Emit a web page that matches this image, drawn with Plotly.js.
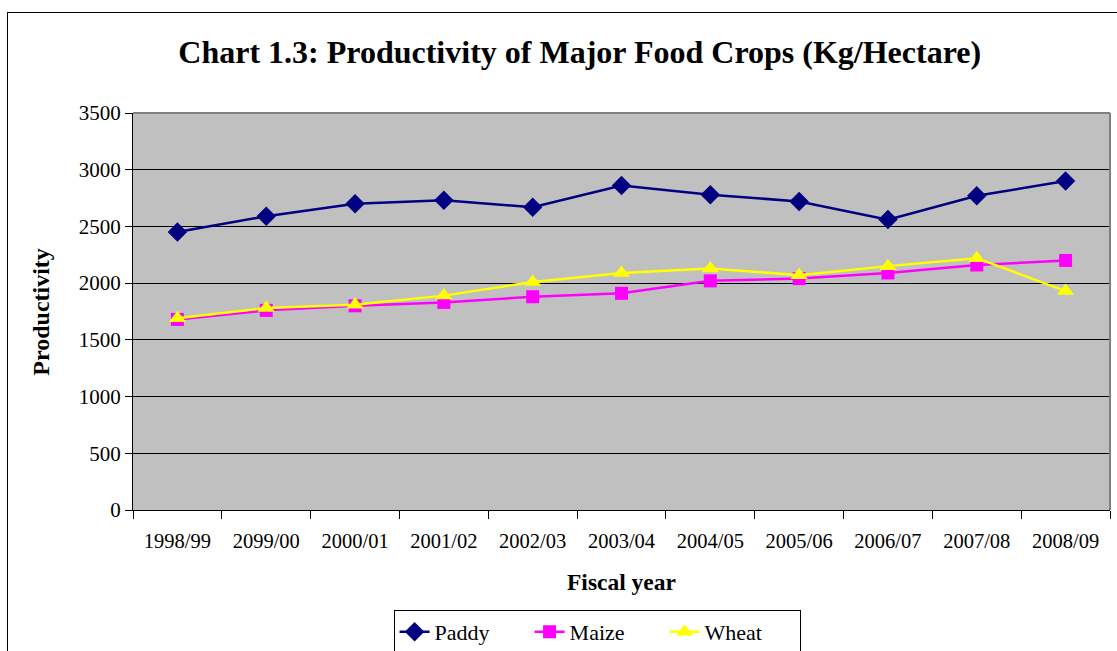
<!DOCTYPE html>
<html>
<head>
<meta charset="utf-8">
<script src="https://cdn.plot.ly/plotly-3.0.1.min.js"></script>
<style>
html,body{margin:0;padding:0;background:#fff;}
#wrap{position:relative;width:1117px;height:651px;overflow:hidden;}
#chart{width:1117px;height:651px;}
#frame{position:absolute;left:7px;top:12px;width:1200px;height:700px;border-left:1px solid #000;border-top:1px solid #000;pointer-events:none;}
</style>
</head>
<body>
<div id="wrap"><div id="chart"></div><div id="frame"></div></div>
<script>
const years = ["1998/99","2099/00","2000/01","2001/02","2002/03","2003/04","2004/05","2005/06","2006/07","2007/08","2008/09"];
const paddy = [2450,2590,2700,2730,2670,2860,2780,2720,2560,2770,2900];
const maize = [1680,1760,1800,1830,1880,1910,2020,2040,2090,2160,2200];
const wheat = [1690,1780,1810,1890,2010,2090,2130,2070,2150,2220,1930];

const font = "Liberation Serif, Times New Roman, serif";
const traces = [
  {x: years, y: paddy, name: "Paddy", type: "scatter", mode: "lines+markers",
   line: {color: "#000080", width: 2.5}, marker: {symbol: "diamond", size: 15, color: "#000080"}},
  {x: years, y: maize, name: "Maize", type: "scatter", mode: "lines+markers",
   line: {color: "#FF00FF", width: 2.5}, marker: {symbol: "square", size: 13, color: "#FF00FF"}},
  {x: years, y: wheat, name: "Wheat", type: "scatter", mode: "lines+markers",
   line: {color: "#FFFF00", width: 2.5}, marker: {symbol: "triangle-up", size: 15, color: "#FFFF00"}}
];
const layout = {
  width: 1117, height: 651,
  margin: {l: 133, r: 7, t: 113, b: 141, autoexpand: false},
  paper_bgcolor: "#ffffff",
  plot_bgcolor: "#C0C0C0",
  font: {family: font, color: "#000", size: 20},
  title: {text: "<b>Chart 1.3: Productivity of Major Food Crops (Kg/Hectare)</b>",
          font: {family: font, size: 32, color: "#000"},
          x: 0.519, xanchor: "center", y: 0.92, yanchor: "middle", yref: "container"},
  xaxis: {type: "category", range: [-0.5, 10.5], showgrid: false, zeroline: false,
          showline: true, linecolor: "#000", linewidth: 1, mirror: false,
          ticks: "outside", ticklen: 8, tickcolor: "#000", tickson: "boundaries",
          ticklabelstandoff: 12, automargin: false,
          tickfont: {family: font, size: 20.5, color: "#000"}, fixedrange: true},
  yaxis: {range: [0, 3500], dtick: 500, tick0: 0, showgrid: true, gridcolor: "#000", gridwidth: 1,
          zeroline: false, showline: true, linecolor: "#000", linewidth: 1,
          ticks: "outside", ticklen: 7, tickcolor: "#000", automargin: false,
          tickfont: {family: font, size: 21, color: "#000"}, fixedrange: true},
  showlegend: true,
  legend: {orientation: "h", x: 0.475, xanchor: "center", y: -0.252, yanchor: "top",
           bordercolor: "#000", borderwidth: 1, bgcolor: "#fff",
           font: {family: font, size: 22, color: "#000"}, itemwidth: 30, entrywidth: 90},
  annotations: [
    {text: "<b>Productivity</b>", textangle: -90, xref: "paper", yref: "paper",
     x: -0.095, y: 0.5, xanchor: "center", yanchor: "middle", showarrow: false,
     font: {family: font, size: 24, color: "#000"}},
    {text: "<b>Fiscal year</b>", xref: "paper", yref: "paper",
     x: 0.5, y: -0.181, xanchor: "center", yanchor: "middle", showarrow: false,
     font: {family: font, size: 23.5, color: "#000"}}
  ],
  shapes: [
    {type: "line", xref: "paper", yref: "paper", x0: 0, x1: 1, y0: 1, y1: 1, line: {color: "#808080", width: 2}},
    {type: "line", xref: "paper", yref: "paper", x0: 1, x1: 1, y0: 0, y1: 1, line: {color: "#808080", width: 2}}
  ]
};
Plotly.newPlot("chart", traces, layout, {displayModeBar: false, staticPlot: true});
</script>
</body>
</html>
